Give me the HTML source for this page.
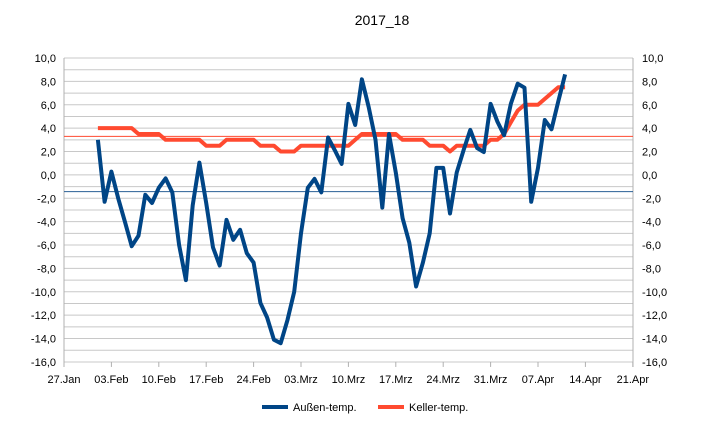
<!DOCTYPE html>
<html><head><meta charset="utf-8"><style>
html,body{margin:0;padding:0;background:#fff;width:710px;height:430px;overflow:hidden}
svg{display:block;font-family:"Liberation Sans",sans-serif}
</style></head><body>
<svg id="c" width="710" height="430" viewBox="0 0 710 430"></svg>
<script>
const X0=64,DAY=47.4/7,Y0=58,UNIT=11.69;
const xd=d=>X0+d*DAY, yv=v=>Y0+(10-v)*UNIT;
let s='<rect width="710" height="430" fill="#fff"/>';
s+='<text x="382" y="25" font-size="14" text-anchor="middle" fill="#000">2017_18</text>';
for(let v=-16;v<=10;v++){const y=yv(v);s+=`<line x1="${X0}" x2="633" y1="${y}" y2="${y}" stroke="#c8c8c8" stroke-width="1"/>`;}
s+=`<line x1="${X0}" x2="${X0}" y1="${Y0}" y2="${yv(-16)+5}" stroke="#b0b0b0"/>`;
s+=`<line x1="633" x2="633" y1="${Y0}" y2="${yv(-16)+5}" stroke="#b0b0b0"/>`;
for(let v=-16;v<=10;v+=2){const y=yv(v)+4;const t=v.toFixed(1).replace('.',',');
s+=`<text x="${X0-8}" y="${y}" font-size="11" text-anchor="end">${t}</text>`;
s+=`<text x="642" y="${y}" font-size="11">${t}</text>`;}
const lab=["27.Jan","03.Feb","10.Feb","17.Feb","24.Feb","03.Mrz","10.Mrz","17.Mrz","24.Mrz","31.Mrz","07.Apr","14.Apr","21.Apr"];
lab.forEach((l,i)=>{const x=xd(i*7);s+=`<line x1="${x}" x2="${x}" y1="${yv(-16)}" y2="${yv(-16)+5}" stroke="#b0b0b0"/>`;
s+=`<text x="${x}" y="${yv(-16)+21}" font-size="11" text-anchor="middle">${l}</text>`;});
s+=`<line x1="${X0}" x2="633" y1="${yv(3.3)}" y2="${yv(3.3)}" stroke="#ff4a30" stroke-width="1"/>`;
s+=`<line x1="${X0}" x2="633" y1="${yv(-1.43)}" y2="${yv(-1.43)}" stroke="#2a5f95" stroke-width="1"/>`;
const blue=[3.0,-2.3,0.28,-2.0,-4.0,-6.1,-5.2,-1.7,-2.4,-1.1,-0.3,-1.5,-6.0,-9.0,-2.6,1.05,-2.4,-6.2,-7.75,-3.85,-5.55,-4.7,-6.7,-7.5,-10.95,-12.2,-14.1,-14.4,-12.4,-10.0,-5.0,-1.1,-0.34,-1.5,3.2,2.1,0.94,6.07,4.27,8.18,5.8,3.0,-2.8,3.5,0.2,-3.7,-5.8,-9.55,-7.5,-5.0,0.6,0.6,-3.3,0.2,2.1,3.85,2.3,1.95,6.07,4.56,3.4,6.1,7.8,7.46,-2.3,0.6,4.7,3.9,6.3,8.6];
const red=[4,4,4,4,4,4,3.5,3.5,3.5,3.5,3,3,3,3,3,3,2.5,2.5,2.5,3,3,3,3,3,2.5,2.5,2.5,2,2,2,2.5,2.5,2.5,2.5,2.5,2.5,2.5,2.5,3,3.5,3.5,3.5,3.5,3.5,3.5,3,3,3,3,2.5,2.5,2.5,2,2.5,2.5,2.5,2.5,2.5,3,3,3.5,4.5,5.5,6,6,6,6.5,7,7.5,7.5];
const path=(a)=>a.map((v,i)=>(i?'L':'M')+xd(5+i).toFixed(1)+','+yv(v).toFixed(1)).join(' ');
s+=`<path d="${path(red)}" fill="none" stroke="#ff4a30" stroke-width="4" stroke-linejoin="round"/>`;
s+=`<path d="${path(blue)}" fill="none" stroke="#004586" stroke-width="4" stroke-linejoin="round"/>`;
s+=`<line x1="262" x2="288" y1="407" y2="407" stroke="#004586" stroke-width="4"/>`;
s+=`<text x="293" y="411" font-size="11">Außen-temp.</text>`;
s+=`<line x1="378" x2="404" y1="407" y2="407" stroke="#ff4a30" stroke-width="4"/>`;
s+=`<text x="409" y="411" font-size="11">Keller-temp.</text>`;
document.getElementById('c').innerHTML=s;
</script>
</body></html>
